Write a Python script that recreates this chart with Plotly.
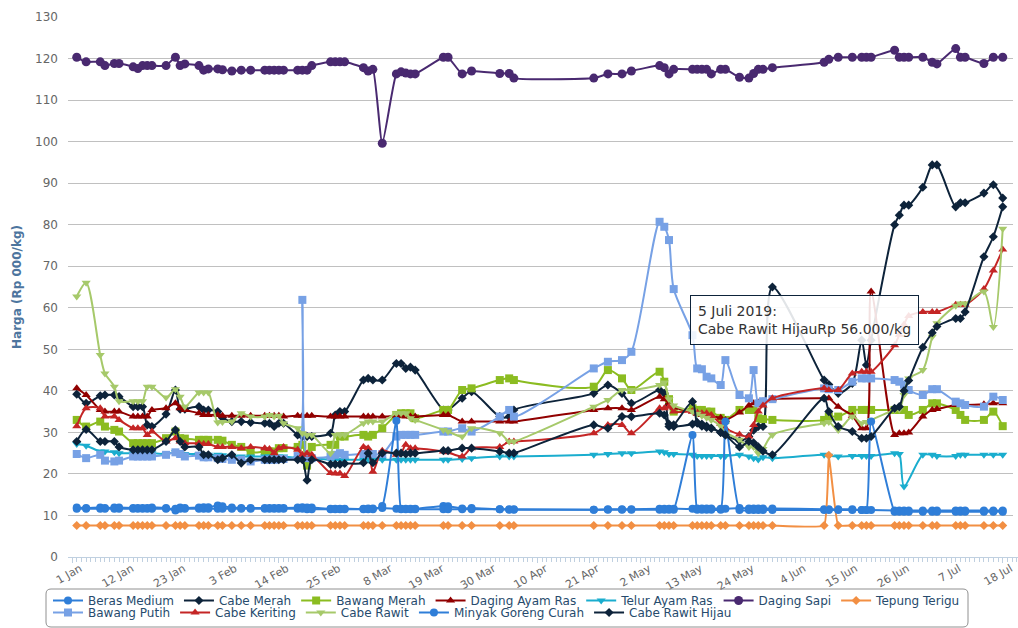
import plotly.graph_objects as go

dates = [
    "2019-01-02", "2019-01-04", "2019-01-07", "2019-01-08", "2019-01-10", "2019-01-11", "2019-01-14", "2019-01-15", "2019-01-16", "2019-01-17",
    "2019-01-18", "2019-01-21", "2019-01-23", "2019-01-24", "2019-01-25", "2019-01-28", "2019-01-29", "2019-01-30", "2019-02-01", "2019-02-02",
    "2019-02-04", "2019-02-06", "2019-02-08", "2019-02-11", "2019-02-12", "2019-02-13", "2019-02-14", "2019-02-15", "2019-02-18", "2019-02-19",
    "2019-02-20", "2019-02-21", "2019-02-25", "2019-02-26", "2019-02-27", "2019-02-28", "2019-03-04", "2019-03-05", "2019-03-06", "2019-03-08",
    "2019-03-11", "2019-03-12", "2019-03-13", "2019-03-14", "2019-03-15", "2019-03-21", "2019-03-22", "2019-03-25", "2019-03-27", "2019-04-02",
    "2019-04-04", "2019-04-05", "2019-04-22", "2019-04-25", "2019-04-28", "2019-04-30", "2019-05-06", "2019-05-07", "2019-05-08", "2019-05-09",
    "2019-05-13", "2019-05-14", "2019-05-15", "2019-05-16", "2019-05-17", "2019-05-19", "2019-05-20", "2019-05-23", "2019-05-25", "2019-05-26",
    "2019-05-27", "2019-05-28", "2019-05-30", "2019-06-10", "2019-06-11", "2019-06-13", "2019-06-16", "2019-06-18", "2019-06-19", "2019-06-20",
    "2019-06-25", "2019-06-26", "2019-06-27", "2019-06-28", "2019-07-01", "2019-07-03", "2019-07-04", "2019-07-08", "2019-07-09", "2019-07-10",
    "2019-07-14", "2019-07-16", "2019-07-18",
]

beras_medium = [
    11.9, 11.8, 11.9, 11.8, 11.9, 11.9, 11.8, 11.8, 11.8, 11.8,
    11.9, 11.8, 11.2, 11.9, 11.8, 11.9, 12.0, 12.0, 12.4, 12.2,
    11.9, 11.8, 11.8, 11.8, 11.8, 11.8, 11.8, 11.8, 11.9, 12.0,
    11.9, 11.9, 11.6, 11.6, 11.6, 11.6, 11.6, 11.7, 11.7, 11.8,
    11.6, 11.6, 11.6, 11.6, 11.6, 12.3, 12.2, 11.7, 11.8, 11.5,
    11.5, 11.5, 11.4, 11.5, 11.5, 11.5, 11.6, 11.6, 11.6, 11.6,
    11.6, 11.7, 11.7, 11.7, 11.7, 11.6, 11.6, 11.8, 11.7, 11.7,
    11.7, 11.7, 11.7, 11.5, 11.5, 11.5, 11.5, 11.3, 11.3, 11.3,
    11.2, 11.2, 11.2, 11.2, 11.2, 11.2, 11.2, 11.2, 11.2, 11.2,
    11.2, 11.2, 11.2,
]

cabe_merah = [
    39.2, 37.0, 38.8, 39.0, 39.0, 38.6, 36.2, 36.2, 36.2, 31.8,
    31.4, 34.4, 40.2, 35.6, 35.6, 36.2, 35.4, 35.4, 35.0, 33.5,
    32.6, 32.6, 32.4, 32.2, 32.2, 31.4, 32.2, 32.2, 29.4, 29.0,
    29.0, 29.0, 29.8, 34.2, 35.0, 35.0, 42.6, 43.0, 42.6, 42.6,
    46.6, 46.6, 45.4, 45.7, 45.0, 35.4, 35.4, 38.2, 39.8, 33.8,
    33.8, 35.4, 39.4, 41.4, 39.4, 37.0, 40.2, 39.4, 32.0, 31.4,
    32.0, 32.4, 32.0, 31.5, 31.0, 30.0, 29.4, 28.0, 29.0, 30.5,
    31.4, 31.4, 65.0, 42.6, 41.5, 39.4, 41.8, 52.2, 46.2, 52.2,
    80.0, 82.3, 84.7, 84.7, 89.0, 94.4, 94.4, 84.3, 85.3, 85.3,
    87.6, 89.6, 86.4,
]

bawang_merah = [
    33.0, 31.4, 32.6, 31.4, 30.6, 30.2, 27.4, 27.4, 27.4, 27.4,
    27.4, 28.6, 30.2, 28.6, 28.5, 28.2, 28.2, 28.2, 28.2, 28.0,
    27.0, 26.5, 25.2, 25.4, 25.4, 25.4, 26.2, 26.2, 26.5, 27.0,
    22.0, 26.5, 27.0, 27.0, 29.0, 29.0, 29.4, 29.0, 29.4, 31.0,
    34.2, 34.6, 34.6, 34.6, 33.4, 35.4, 35.4, 40.2, 40.6, 42.6,
    43.0, 42.6, 41.0, 45.0, 43.0, 40.2, 44.6, 42.2, 38.0, 35.0,
    35.8, 35.4, 35.4, 35.0, 35.0, 33.5, 33.0, 35.4, 35.4, 35.4,
    33.4, 33.2, 33.0, 33.0, 33.8, 33.8, 35.4, 35.4, 35.4, 35.4,
    35.4, 35.4, 35.4, 34.2, 35.4, 37.0, 37.0, 35.4, 34.2, 33.0,
    33.0, 35.0, 31.5,
]

daging_ayam_ras = [
    40.6, 39.0, 35.4, 35.0, 35.0, 35.0, 33.8, 33.8, 33.8, 33.8,
    35.4, 35.8, 37.0, 35.8, 35.4, 34.6, 34.2, 34.2, 34.2, 34.0,
    34.0, 34.0, 34.0, 34.0, 34.0, 34.0, 34.0, 33.8, 34.0, 34.0,
    34.0, 34.0, 33.8, 33.8, 33.8, 33.8, 33.8, 33.8, 33.8, 33.8,
    34.0, 34.0, 33.8, 33.8, 33.8, 34.2, 34.2, 32.6, 32.6, 32.6,
    32.6, 32.6, 35.4, 35.8, 35.8, 35.4, 38.6, 38.0, 37.0, 36.0,
    35.0, 34.5, 34.2, 34.2, 34.0, 33.5, 33.0, 34.8, 36.5, 37.0,
    37.2, 37.5, 38.0, 38.2, 38.2, 36.2, 34.0, 31.0, 31.0, 63.9,
    29.4, 29.8, 29.8, 30.0, 33.8, 35.4, 35.6, 36.6, 36.6, 36.6,
    36.8, 37.0, 37.0,
]

telur_ayam_ras = [
    27.2, 26.8, 25.4, 25.4, 25.2, 25.0, 25.0, 25.0, 25.0, 25.0,
    25.0, 24.8, 25.2, 24.8, 24.8, 24.8, 24.6, 24.6, 24.6, 24.5,
    24.4, 24.2, 24.2, 24.2, 24.2, 24.2, 24.2, 24.2, 23.8, 23.8,
    23.8, 23.8, 23.4, 23.4, 23.4, 23.4, 23.4, 23.4, 23.4, 23.4,
    23.4, 23.4, 23.4, 23.4, 23.4, 23.4, 23.4, 23.6, 23.8, 24.2,
    24.2, 24.2, 24.6, 24.8, 25.0, 25.0, 25.4, 25.2, 24.8, 24.8,
    24.6, 24.3, 24.3, 24.3, 24.3, 24.3, 24.3, 24.6, 24.2, 23.8,
    23.5, 24.0, 23.8, 24.6, 24.4, 24.2, 24.3, 24.3, 24.3, 24.3,
    25.0, 24.8, 17.0, None, 24.6, 24.6, 24.3, 24.3, 24.6, 24.6,
    24.6, 24.6, 24.6,
]

daging_sapi = [
    120.3, 119.2, 119.2, 118.3, 118.8, 118.8, 118.0, 117.6, 118.3, 118.3,
    118.3, 118.3, 120.3, 118.3, 118.7, 118.3, 117.2, 117.5, 117.5, 117.3,
    117.0, 117.2, 117.2, 117.2, 117.2, 117.2, 117.2, 117.2, 117.2, 117.2,
    117.2, 118.3, 119.2, 119.2, 119.2, 119.2, 117.8, 117.0, 117.4, 99.6,
    116.3, 116.8, 116.5, 116.3, 116.3, 120.3, 120.3, 116.3, 117.0, 116.4,
    116.4, 115.3, 115.3, 116.3, 116.3, 117.0, 118.3, 117.8, 116.3, 117.4,
    117.4, 117.4, 117.4, 117.4, 116.3, 117.4, 117.4, 115.5, 115.3, 116.4,
    117.4, 117.4, 117.8, 119.1, 119.8, 120.3, 120.3, 120.3, 120.3, 120.3,
    122.0, 120.3, 120.3, 120.3, 120.3, 119.1, 118.7, 122.4, 120.3, 120.3,
    118.8, 120.3, 120.3,
]

tepung_terigu = [
    7.6, 7.6, 7.6, 7.6, 7.6, 7.6, 7.6, 7.6, 7.6, 7.6,
    7.6, 7.6, 7.6, 7.6, 7.6, 7.6, 7.6, 7.6, 7.6, 7.6,
    7.6, 7.6, 7.6, 7.6, 7.6, 7.6, 7.6, 7.6, 7.6, 7.6,
    7.6, 7.6, 7.6, 7.6, 7.6, 7.6, 7.6, 7.6, 7.6, 7.6,
    7.6, 7.6, 7.6, 7.6, 7.6, 7.6, 7.6, 7.6, 7.6, 7.6,
    7.6, 7.6, 7.6, 7.6, 7.6, 7.6, 7.6, 7.6, 7.6, 7.6,
    7.6, 7.6, 7.6, 7.6, 7.6, 7.6, 7.6, 7.6, 7.6, 7.6,
    7.6, 7.6, 7.6, 7.6, 24.5, 7.6, 7.6, 7.6, 7.6, 7.6,
    7.6, 7.6, 7.6, 7.6, 7.6, 7.6, 7.6, 7.6, 7.6, 7.6,
    7.6, 7.6, 7.6,
]

bawang_putih = [
    24.8, 23.8, 24.6, 23.2, 23.0, 23.2, 24.2, 24.2, 24.2, 24.2,
    24.2, 24.6, 25.2, 24.8, 24.2, 24.4, 24.0, 24.0, 23.8, 23.6,
    23.4, 23.4, 23.0, 23.4, 23.4, 23.4, 23.6, 23.6, 24.3, 61.9,
    23.8, 23.8, 24.2, 24.6, 25.0, 24.6, 24.8, 24.8, 24.8, 24.8,
    29.0, 29.4, 29.4, 29.4, 29.4, 30.2, 30.2, 31.0, 30.2, 33.8,
    35.4, 33.8, 45.4, 47.0, 47.4, 49.4, 80.7, 79.5, 76.3, 64.5,
    53.4, 45.4, 45.2, 43.4, 43.0, 41.4, 47.4, 39.0, 38.2, 45.0,
    37.0, 37.5, 38.0, 40.6, 40.4, 40.2, 42.2, 43.0, 43.0, 43.0,
    42.6, 42.2, 41.5, 40.2, 39.0, 40.4, 40.4, 37.4, 37.0, 36.6,
    36.2, 38.6, 37.8,
]

cabe_keriting = [
    31.5, 35.8, 35.8, 33.8, 33.8, 33.0, 31.0, 31.0, 31.0, 29.4,
    30.2, 27.8, 28.6, 27.8, 27.4, 27.4, 27.2, 27.2, 26.5, 26.5,
    26.5, 26.2, 26.5, 26.2, 26.0, 25.0, 26.2, 26.5, 25.8, 24.6,
    25.0, 24.6, 20.2, 20.1, 20.1, 19.5, 26.5, 26.2, 20.5, 25.6,
    24.6, 25.0, 27.0, 26.2, 26.2, 25.4, 25.2, 24.2, 26.2, 26.5,
    27.8, 27.8, 29.8, 31.8, 31.8, 29.8, 35.8, 35.8, 36.2, 35.0,
    35.0, 34.8, 34.6, 34.6, 34.2, 32.0, 31.0, 29.5, 29.0, 31.8,
    35.0, 36.5, 38.2, 40.6, 40.2, 40.2, 44.2, 44.6, 44.6, 44.6,
    51.0, 53.5, 56.0, 58.0, 59.0, 59.0, 59.0, 60.7, 60.7, 60.7,
    64.5, 69.0, 74.0,
]

cabe_rawit = [
    62.7, 66.0, 48.6, 44.2, 41.0, 37.5, 37.5, 37.5, 37.5, 41.0,
    41.0, 38.4, 40.4, 38.6, 36.2, 39.6, 39.6, 39.6, 32.4, 32.5,
    32.6, 34.6, 33.8, 33.8, 34.2, 33.8, 34.0, 32.2, 31.0, 29.8,
    29.4, 29.4, 25.0, 29.4, 29.4, 29.4, 32.2, 32.6, 32.6, 32.6,
    34.6, 34.6, 34.6, 33.4, 33.0, 30.6, 30.2, 29.0, 31.0, 29.8,
    27.8, 27.8, 36.2, 37.8, 40.2, 40.2, 41.4, 42.0, 38.0, 36.5,
    35.0, 34.5, 34.0, 33.5, 33.0, 31.5, 30.0, 28.2, 26.5, 26.5,
    25.0, 26.0, 29.4, 32.2, 32.5, 30.6, 33.8, 32.2, 32.5, 33.0,
    35.4, 35.5, 39.0, 43.0, 45.0, 53.0, 56.3, 60.5, 61.0, 61.0,
    63.9, 55.4, 79.0,
]

minyak_goreng_curah = [
    11.6, 11.6, 11.6, 11.6, 11.6, 11.6, 11.6, 11.6, 11.6, 11.6,
    11.6, 11.6, 11.6, 11.6, 11.6, 11.6, 11.6, 11.6, 11.6, 11.6,
    11.6, 11.6, 11.6, 11.6, 11.6, 11.6, 11.6, 11.6, 11.6, 11.6,
    11.5, 11.5, 11.5, 11.5, 11.5, 11.5, 11.5, 11.5, 11.5, 12.3,
    32.8, 11.5, 11.5, 11.5, 11.5, 11.5, 11.5, 11.5, 11.5, 11.5,
    11.4, 11.4, 11.4, 11.4, 11.4, 11.4, 11.4, 11.4, 11.4, 11.4,
    29.4, 11.4, 11.4, 11.4, 11.4, 11.4, 32.6, 11.3, 11.3, 11.3,
    11.3, 11.3, 11.3, 11.3, 11.3, 11.3, 11.3, 11.3, 11.3, 32.6,
    10.9, 10.9, 10.9, 10.9, 10.9, 10.9, 10.9, 10.9, 10.9, 10.9,
    10.9, 10.9, 10.9,
]

cabe_rawit_hijau = [
    27.8, 30.7, 27.8, 27.8, 27.8, 26.5, 25.8, 25.8, 25.8, 25.8,
    25.8, 27.8, 30.6, 27.8, 26.5, 26.5, 24.6, 24.6, 23.4, 23.8,
    24.6, 22.6, 23.4, 23.4, 23.4, 23.4, 23.4, 23.4, 23.4, 23.4,
    18.5, 23.4, 22.3, 22.3, 22.3, 22.5, 22.7, 25.0, 22.7, 25.0,
    25.0, 25.0, 24.8, 25.0, 25.0, 25.6, 25.6, 26.2, 26.2, 25.4,
    25.0, 25.0, 31.8, 31.0, 33.8, 33.8, 34.6, 34.2, 31.4, 31.8,
    37.4, 32.2, 31.5, 31.2, 31.0, 30.0, 29.4, 26.5, 27.8, 27.5,
    26.5, 25.5, 24.6, 38.2, 35.0, 31.4, 30.2, 28.6, 28.6, 29.0,
    35.8, 36.2, 40.0, 42.5, 50.5, 54.0, 55.5, 57.4, 57.4, 59.0,
    72.3, 77.1, 84.3,
]

series_names = [
    "Beras Medium", "Cabe Merah", "Bawang Merah", "Daging Ayam Ras", "Telur Ayam Ras",
    "Daging Sapi", "Tepung Terigu", "Bawang Putih", "Cabe Keriting", "Cabe Rawit",
    "Minyak Goreng Curah", "Cabe Rawit Hijau",
]
series_values = [
    beras_medium, cabe_merah, bawang_merah, daging_ayam_ras, telur_ayam_ras,
    daging_sapi, tepung_terigu, bawang_putih, cabe_keriting, cabe_rawit,
    minyak_goreng_curah, cabe_rawit_hijau,
]
colors = ["#2f7ed8", "#0d233a", "#8bbc21", "#910000", "#1aadce", "#492970",
          "#f28f43", "#77a1e5", "#c42525", "#a6c96a", "#2f7ed8", "#0d233a"]
symbols = ["circle", "diamond", "square", "triangle-up", "triangle-down", "circle",
           "diamond", "square", "triangle-up", "triangle-down", "circle", "diamond"]
sizes = [8, 7, 8, 8, 8, 9, 7, 8, 8, 8, 8, 7]
smooth = [0.8, 0.8, 0.8, 0.8, 0.8, 0.5, 0.3, 0.8, 0.8, 0.8, 0.5, 0.8]
legend_rows = ["legend", "legend", "legend", "legend", "legend", "legend", "legend",
               "legend2", "legend2", "legend2", "legend2", "legend2"]

tooltip_title = "5 Juli 2019:"
tooltip_body = "Cabe Rawit HijauRp 56.000/kg"

fig = go.Figure()
for name, vals, col, sym, sz, sm, lg in zip(series_names, series_values, colors, symbols,
                                           sizes, smooth, legend_rows):
    fig.add_trace(go.Scatter(
        x=dates, y=vals, name=name, mode="lines+markers",
        line=dict(color=col, width=2, shape="spline", smoothing=sm),
        marker=dict(color=col, symbol=sym, size=sz, line=dict(width=0)),
        connectgaps=True, legend=lg,
    ))

# plot area in pixels (right margin kept at 0 so legends below do not push margins;
# the last 5 px are masked to mimic the reference's gridline end)
PL, PR, PT, PB = 68, 1018, 17, 557
GRID_END = 1013


def px_x(x):
    return (x - PL) / (PR - PL)


def px_y(y):
    return (PB - y) / (PB - PT)


fig.add_shape(type="rect", xref="paper", yref="paper", x0=px_x(GRID_END), x1=1.0,
              y0=0.0, y1=1.0, line=dict(width=0), fillcolor="white", layer="above")

fig.add_annotation(
    xref="paper", yref="paper", x=px_x(690), y=px_y(295), xanchor="left", yanchor="top",
    text=tooltip_title + "<br>" + tooltip_body, showarrow=False, align="left",
    font=dict(family="DejaVu Sans", size=14, color="#333333"),
    bgcolor="rgba(255,255,255,0.88)", bordercolor="#0d233a", borderwidth=1, borderpad=7,
)

# legend frame (rounded rectangle)
lx0, lx1 = px_x(46), px_x(968)
ly1, ly0 = px_y(589), px_y(627)
rx, ry = 5 / (PR - PL), 5 / (PB - PT)
frame = (f"M {lx0 + rx},{ly1} L {lx1 - rx},{ly1} Q {lx1},{ly1} {lx1},{ly1 - ry} "
         f"L {lx1},{ly0 + ry} Q {lx1},{ly0} {lx1 - rx},{ly0} L {lx0 + rx},{ly0} "
         f"Q {lx0},{ly0} {lx0},{ly0 + ry} L {lx0},{ly1 - ry} Q {lx0},{ly1} {lx0 + rx},{ly1} Z")
fig.add_shape(type="path", xref="paper", yref="paper", path=frame,
              line=dict(color="#909090", width=1), fillcolor="rgba(0,0,0,0)")

# x range: 1 Jan 2019 sits at x = 72 px, 4.7 px per day, plot spans 68..1018 px
x_start = "2018-12-31 03:24"
x_end = "2019-07-21 06:00"

legend_font = dict(family="DejaVu Sans", size=12, color="#274b6d")
fig.update_layout(
    width=1018, height=628,
    margin=dict(l=PL, r=1018 - PR, t=PT, b=628 - PB),
    paper_bgcolor="white", plot_bgcolor="white",
    font=dict(family="DejaVu Sans", size=12, color="#666666"),
    showlegend=True,
    legend=dict(
        orientation="h", xref="paper", yref="paper",
        x=px_x(48), y=px_y(615), xanchor="left", yanchor="bottom",
        borderwidth=0, bgcolor="rgba(0,0,0,0)", font=legend_font,
        itemwidth=30, tracegroupgap=0,
    ),
    legend2=dict(
        orientation="h", xref="paper", yref="paper",
        x=px_x(48), y=px_y(627), xanchor="left", yanchor="bottom",
        borderwidth=0, bgcolor="rgba(0,0,0,0)", font=legend_font,
        itemwidth=30, tracegroupgap=0,
    ),
    xaxis=dict(
        type="date",
        range=[x_start, x_end],
        tick0="2019-01-01", dtick=11 * 86400000,
        tickformat="%-d %b", tickangle=-30, ticklabelshift=8, ticklabelstandoff=-5,
        showgrid=False, showline=True, linecolor="#C0D0E0", linewidth=1,
        ticks="outside", ticklen=5, tickcolor="#C0D0E0",
        minor=dict(dtick=86400000, ticks="outside", ticklen=4, tickcolor="#C0D0E0", showgrid=False),
        tickfont=dict(family="DejaVu Sans", size=11, color="#666666"),
        zeroline=False, automargin=False,
    ),
    yaxis=dict(
        range=[0, 130], dtick=10,
        showgrid=True, gridcolor="#C0C0C0", gridwidth=1,
        zeroline=False, showline=False,
        ticks="", ticklabelstandoff=9,
        tickfont=dict(family="DejaVu Sans", size=12, color="#666666"),
        title=dict(text="<b>Harga (Rp 000/kg)</b>", standoff=10,
                   font=dict(family="DejaVu Sans", size=12, color="#4d759e")),
        automargin=False,
    ),
)

fig.write_html("out.html", config={"displayModeBar": False},
               post_script="document.body.style.margin='0';document.body.style.overflow='hidden';")
